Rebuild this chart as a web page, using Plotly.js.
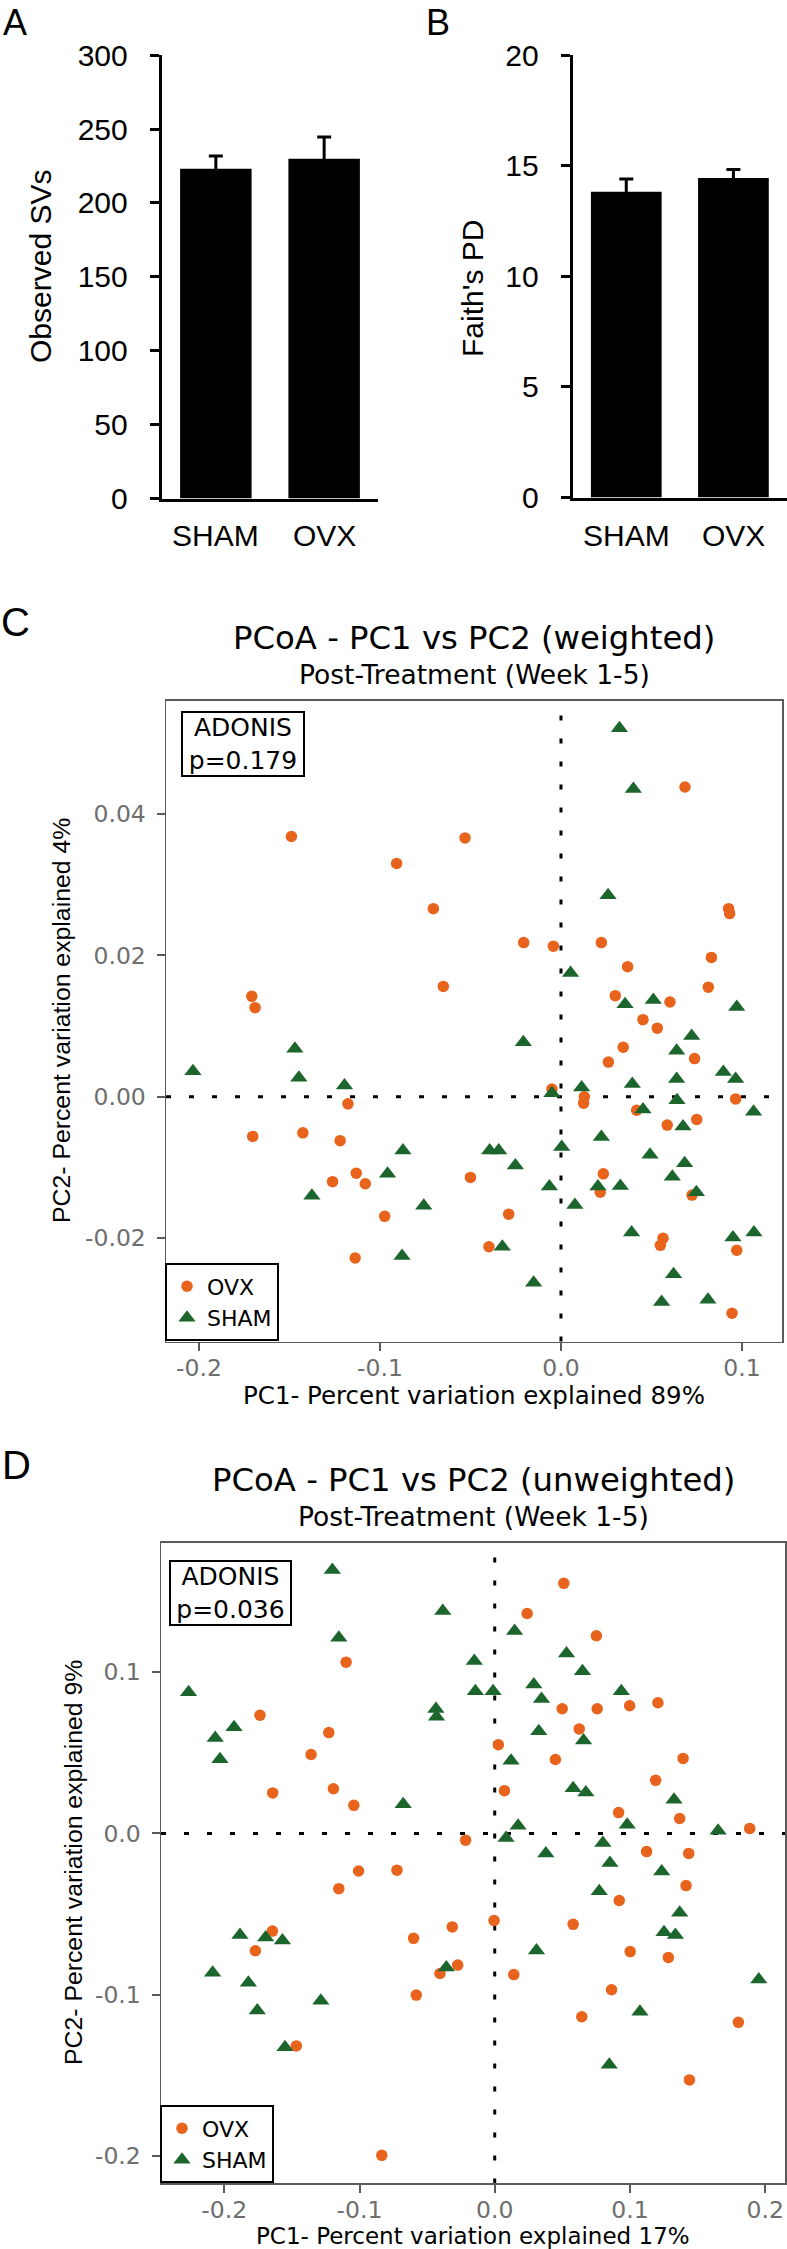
<!DOCTYPE html>
<html>
<head>
<meta charset="utf-8">
<script src="https://cdn.plot.ly/plotly-3.0.1.min.js"></script>
<style>
  html, body { margin: 0; padding: 0; background: #ffffff; }
  #chart { width: 787px; height: 2249px; }
</style>
</head>
<body>
<div id="chart"></div>
<script>
// ---------------- DATA ----------------
const categories = ['SHAM', 'OVX'];
const observedSVs = [223.2, 229.9];
const observedSVsErr = [8.5, 14.7];
const faithPD = [13.82, 14.45];
const faithPDErr = [0.58, 0.38];
const svTicks = [0, 50, 100, 150, 200, 250, 300];
const pdTicks = [0, 5, 10, 15, 20];

// weighted PCoA (panel C)
const wOvxPC1 = [-0.1489,-0.0908,-0.0705,-0.0650,-0.0530,-0.1708,-0.1690,-0.1177,-0.1703,-0.1426,-0.1220,-0.1131,-0.1081,-0.1262,-0.0974,-0.1137,
  0.0685,0.0926,0.0932,-0.0206,-0.0042,0.0223,0.0368,0.0831,0.0814,0.0300,0.0602,0.0453,0.0532,0.0344,0.0262,0.0738,-0.0050,0.0129,0.0125,0.0965,
  0.0418,0.0587,0.0750,-0.0500,0.0234,0.0217,0.0724,-0.0289,-0.0398,0.0564,0.0549,0.0971,0.0945];
const wOvxPC2 = [0.0368,0.0330,0.0266,0.0156,0.0366,0.0142,0.0126,-0.0010,-0.0056,-0.0051,-0.0062,-0.0108,-0.0123,-0.0120,-0.0169,-0.0228,
  0.0438,0.0266,0.0259,0.0218,0.0213,0.0218,0.0184,0.0197,0.0155,0.0143,0.0134,0.0109,0.0097,0.0070,0.0049,0.0054,0.0011,0.0000,-0.0009,-0.0003,
  -0.0019,-0.0040,-0.0032,-0.0114,-0.0109,-0.0135,-0.0139,-0.0166,-0.0212,-0.0200,-0.0210,-0.0217,-0.0306];
const wShamPC1 = [0.0323,-0.2033,-0.1470,-0.1448,-0.1196,-0.0873,-0.0958,-0.1376,-0.0758,-0.0878,
  0.0400,0.0260,0.0053,0.0354,0.0510,0.0971,-0.0208,0.0722,0.0639,0.0897,0.0965,0.0639,0.0394,0.0114,-0.0050,0.0641,0.0453,0.1064,0.0674,0.0223,
  0.0004,-0.0394,-0.0344,-0.0252,0.0492,0.0683,0.0615,-0.0064,0.0204,0.0328,0.0748,0.0077,0.0390,-0.0324,0.0950,0.1066,-0.0151,0.0622,0.0556,0.0812];
const wShamPC2 = [0.0521,0.0036,0.0068,0.0027,0.0016,-0.0076,-0.0109,-0.0140,-0.0154,-0.0225,
  0.0435,0.0285,0.0175,0.0131,0.0137,0.0127,0.0077,0.0086,0.0065,0.0035,0.0025,0.0025,0.0018,0.0013,0.0005,-0.0005,-0.0018,-0.0021,-0.0042,-0.0057,
  -0.0071,-0.0076,-0.0076,-0.0097,-0.0082,-0.0094,-0.0113,-0.0127,-0.0127,-0.0126,-0.0135,-0.0153,-0.0192,-0.0212,-0.0199,-0.0192,-0.0263,-0.0251,-0.0290,-0.0287];

// unweighted PCoA (panel D)
const uOvxPC1 = [0.0511,0.0240,0.0752,
  -0.1099,-0.1736,-0.1227,-0.1358,-0.1642,-0.1193,-0.1042,-0.0215,-0.1007,-0.0723,-0.1153,-0.1644,-0.1770,-0.0314,-0.0600,-0.0274,-0.0405,-0.0580,-0.1467,-0.0835,
  0.0499,0.0758,0.0998,0.1207,0.0625,0.0027,0.0449,0.1393,0.1190,0.0072,0.0916,0.1368,0.1886,0.1123,0.1435,0.1415,0.0921,-0.0005,0.0580,0.1002,0.1284,0.0141,0.0864,0.0644,0.1802,0.1440];
const uOvxPC2 = [0.1551,0.1364,0.1226,
  0.1062,0.0733,0.0625,0.0489,0.0251,0.0277,0.0174,-0.0042,-0.0233,-0.0228,-0.0343,-0.0606,-0.0728,-0.0580,-0.0651,-0.0817,-0.0869,-0.1003,-0.1318,-0.1997,
  0.0773,0.0773,0.0792,0.0810,0.0648,0.0550,0.0458,0.0465,0.0329,0.0265,0.0129,0.0092,0.0031,-0.0113,-0.0124,-0.0324,-0.0416,-0.0540,-0.0564,-0.0733,-0.0770,-0.0876,-0.0970,-0.1137,-0.1172,-0.1529];
const uShamPC1 = [-0.1201,-0.0384,-0.1153,0.0147,
  -0.2264,-0.1928,-0.2067,-0.2032,-0.0435,-0.0430,-0.0677,-0.1884,-0.1694,-0.1570,-0.2086,-0.1822,-0.1756,-0.1286,-0.1551,-0.0358,
  -0.0151,0.0531,0.0649,0.0289,-0.0143,-0.0012,0.0936,0.0346,0.0326,0.0657,0.0121,0.0580,0.0674,0.1326,0.0173,0.0980,0.1652,0.0084,0.0800,0.0378,
  0.0852,0.1235,0.0773,0.1368,0.1252,0.1336,0.0309,0.1953,0.1074,0.0847];
const uShamPC2 = [0.1633,0.1379,0.1213,0.1255,
  0.0876,0.0658,0.0592,0.0460,0.0771,0.0724,0.0181,-0.0630,-0.0646,-0.0665,-0.0864,-0.0926,-0.1099,-0.1038,-0.1327,-0.0832,
  0.1069,0.1116,0.1005,0.0923,0.0881,0.0881,0.0881,0.0834,0.0634,0.0576,0.0451,0.0280,0.0254,0.0209,0.0047,0.0054,0.0016,-0.0028,-0.0059,-0.0125,
  -0.0183,-0.0237,-0.0359,-0.0493,-0.0613,-0.0630,-0.0726,-0.0907,-0.1106,-0.1435];

const wPC1Ticks = [-0.2, -0.1, 0, 0.1];
const wPC1TickText = ['-0.2', '-0.1', '0.0', '0.1'];
const wPC2Ticks = [-0.02, 0, 0.02, 0.04];
const wPC2TickText = ['-0.02', '0.00', '0.02', '0.04'];
const uPC1Ticks = [-0.2, -0.1, 0, 0.1, 0.2];
const uPC1TickText = ['-0.2', '-0.1', '0.0', '0.1', '0.2'];
const uPC2Ticks = [-0.2, -0.1, 0, 0.1];
const uPC2TickText = ['-0.2', '-0.1', '0.0', '0.1'];

const groupNames = ['OVX', 'SHAM'];
const adonisW = 'ADONIS<br>p=0.179';
const adonisU = 'ADONIS<br>p=0.036';

// ---------------- STYLE / LAYOUT ----------------
const W = 787, H = 2249;
const px = v => v / W;
const py = v => 1 - v / H;
const FONT = 'Liberation Sans, Arial, Helvetica, sans-serif';
const WIDE = 'DejaVu Sans, Verdana, sans-serif';
const ORANGE = '#e8631b';
const GREEN = '#1c662d';
const TICKGREY = '#6e6e6e';
const BORDER = '#5a5a5a';

const barYAxis = (domain, range, ticks) => ({
  domain: domain, range: range, tickvals: ticks, ticks: 'outside', ticklen: 9, tickwidth: 3,
  tickcolor: '#000', showline: true, linecolor: '#000', linewidth: 3, showgrid: false, zeroline: false,
  tickfont: {family: FONT, size: 30, color: '#000'}, ticklabelstandoff: 16, fixedrange: true
});
const barXAxis = (domain) => ({
  domain: domain, range: [-0.5, 1.5], type: 'category', showline: true, linecolor: '#000', linewidth: 3,
  ticks: '', showgrid: false, zeroline: false, showticklabels: false, fixedrange: true
});
const sctAxis = (domain, range, ticks, text) => ({
  domain: domain, range: range, tickvals: ticks, ticktext: text, ticks: 'outside', ticklen: 8, tickwidth: 2,
  tickcolor: BORDER, showline: true, mirror: true, linecolor: BORDER, linewidth: 1.5, showgrid: false,
  zeroline: false, tickfont: {family: WIDE, size: 23.5, color: TICKGREY}, ticklabelstandoff: -3, fixedrange: true
});

const traces = [
  {type: 'bar', x: categories, y: observedSVs, xaxis: 'x', yaxis: 'y', width: 0.66,
   marker: {color: '#000'}, showlegend: false,
   error_y: {type: 'data', array: observedSVsErr, visible: true, color: '#000', thickness: 3, width: 7}},
  {type: 'bar', x: categories, y: faithPD, xaxis: 'x2', yaxis: 'y2', width: 0.66,
   marker: {color: '#000'}, showlegend: false,
   error_y: {type: 'data', array: faithPDErr, visible: true, color: '#000', thickness: 3, width: 7}},
  {type: 'scatter', mode: 'markers', name: groupNames[0], x: wOvxPC1, y: wOvxPC2, xaxis: 'x3', yaxis: 'y3',
   legend: 'legend', marker: {symbol: 'circle', size: 11.5, color: ORANGE}},
  {type: 'scatter', mode: 'markers', name: groupNames[1], x: wShamPC1, y: wShamPC2, xaxis: 'x3', yaxis: 'y3',
   legend: 'legend', marker: {symbol: 'triangle-up', size: 15, color: GREEN}},
  {type: 'scatter', mode: 'markers', name: groupNames[0], x: uOvxPC1, y: uOvxPC2, xaxis: 'x4', yaxis: 'y4',
   legend: 'legend2', marker: {symbol: 'circle', size: 11.5, color: ORANGE}},
  {type: 'scatter', mode: 'markers', name: groupNames[1], x: uShamPC1, y: uShamPC2, xaxis: 'x4', yaxis: 'y4',
   legend: 'legend2', marker: {symbol: 'triangle-up', size: 15, color: GREEN}}
];

const dotted = {color: '#000', width: 3, dash: '5px,18px'};
const ann = (x, y, text, size, extra, family) => Object.assign({
  xref: 'paper', yref: 'paper', x: px(x), y: py(y), text: text, showarrow: false,
  xanchor: 'center', yanchor: 'middle', font: {family: family || FONT, size: size, color: '#000'}
}, extra || {});

// category labels under the bars, placed on the category axis
const catLabels = (xref) => categories.map(c => ({
  xref: xref, yref: 'paper', x: c, y: py(535), text: c, showarrow: false, xanchor: 'center', yanchor: 'middle',
  borderpad: 0, font: {family: FONT, size: 30, color: '#000'}
}));

const legendStyle = (x, y) => ({
  x: px(x), y: py(y), xanchor: 'left', yanchor: 'bottom', bgcolor: '#fff', bordercolor: '#000',
  borderwidth: 2, font: {family: WIDE, size: 22, color: '#000'}, itemwidth: 30, traceorder: 'normal',
  tracegroupgap: 0
});

const layout = {
  width: W, height: H, margin: {l: 0, r: 0, t: 0, b: 0}, paper_bgcolor: '#fff', plot_bgcolor: '#fff',
  font: {family: FONT}, showlegend: true,
  xaxis: Object.assign(barXAxis([px(161.7), px(378.3)]), {anchor: 'y'}),
  yaxis: Object.assign(barYAxis([py(498.6), py(55.1)], [0, 300], svTicks), {anchor: 'x'}),
  xaxis2: Object.assign(barXAxis([px(572.7), 1]), {anchor: 'y2'}),
  yaxis2: Object.assign(barYAxis([py(497.6), py(55.1)], [0, 20], pdTicks), {anchor: 'x2'}),
  xaxis3: Object.assign(sctAxis([px(166), px(782)], [-0.2182, 0.1221], wPC1Ticks, wPC1TickText), {anchor: 'y3'}),
  yaxis3: Object.assign(sctAxis([py(1341.5), py(700.7)], [-0.0346, 0.056], wPC2Ticks, wPC2TickText), {anchor: 'x3', ticklabelstandoff: 6}),
  xaxis4: Object.assign(sctAxis([px(161), px(785.3)], [-0.2468, 0.2149], uPC1Ticks, uPC1TickText), {anchor: 'y4'}),
  yaxis4: Object.assign(sctAxis([py(2183.4), py(1542.7)], [-0.2171, 0.1803], uPC2Ticks, uPC2TickText), {anchor: 'x4', ticklabelstandoff: 6}),
  legend: legendStyle(165, 1341.4),
  legend2: legendStyle(160, 2183.4),
  shapes: [
    {type: 'line', xref: 'paper', yref: 'y', x0: px(153), x1: px(162), y0: 0, y1: 0, line: {color: '#000', width: 3}},
    {type: 'line', xref: 'paper', yref: 'y2', x0: px(564), x1: px(573), y0: 0, y1: 0, line: {color: '#000', width: 3}},
    {type: 'line', layer: 'below', xref: 'x3 domain', yref: 'y3', x0: 0, x1: 1, y0: 0, y1: 0, line: dotted},
    {type: 'line', layer: 'below', xref: 'x3', yref: 'y3 domain', x0: 0, x1: 0, y0: 0, y1: 1, line: dotted},
    {type: 'line', layer: 'below', xref: 'x4 domain', yref: 'y4', x0: 0, x1: 1, y0: 0, y1: 0, line: dotted},
    {type: 'line', layer: 'below', xref: 'x4', yref: 'y4 domain', x0: 0, x1: 0, y0: 0, y1: 1, line: dotted}
  ],
  annotations: [
    ann(15, 0, 'A', 36, {yanchor: 'top'}),
    ann(438, 0, 'B', 36, {yanchor: 'top'}),
    ann(15, 622, 'C', 40),
    ann(16, 1465, 'D', 40),
    ann(40, 267, 'Observed SVs', 30, {textangle: -90}),
    ann(473, 289, "Faith's PD", 30, {textangle: -90}),
    ann(474, 638, 'PCoA - PC1 vs PC2 (weighted)', 32.3, null, WIDE),
    ann(474, 674, 'Post-Treatment (Week 1-5)', 26.5, null, WIDE),
    ann(474, 1395, 'PC1- Percent variation explained 89%', 24.5, {borderpad: 0}, WIDE),
    ann(62, 1021, 'PC2- Percent variation explained 4%', 24.8, {textangle: -90}),
    ann(473, 1480, 'PCoA - PC1 vs PC2 (unweighted)', 32.3, null, WIDE),
    ann(473, 1516, 'Post-Treatment (Week 1-5)', 26.5, null, WIDE),
    ann(473, 2235.5, 'PC1- Percent variation explained 17%', 23, {borderpad: 0}, WIDE),
    ann(73, 1863, 'PC2- Percent variation explained 9%', 24.8, {textangle: -90}),
    ann(243, 744, adonisW, 25, {bordercolor: '#000', borderwidth: 2, borderpad: 1, bgcolor: '#fff', width: 118, height: 60}, WIDE),
    ann(230.5, 1592.5, adonisU, 25, {bordercolor: '#000', borderwidth: 2, borderpad: 1, bgcolor: '#fff', width: 117, height: 60}, WIDE)
  ].concat(catLabels('x'), catLabels('x2'))
};

Plotly.newPlot('chart', traces, layout, {displayModeBar: false, staticPlot: true});
</script>
</body>
</html>
